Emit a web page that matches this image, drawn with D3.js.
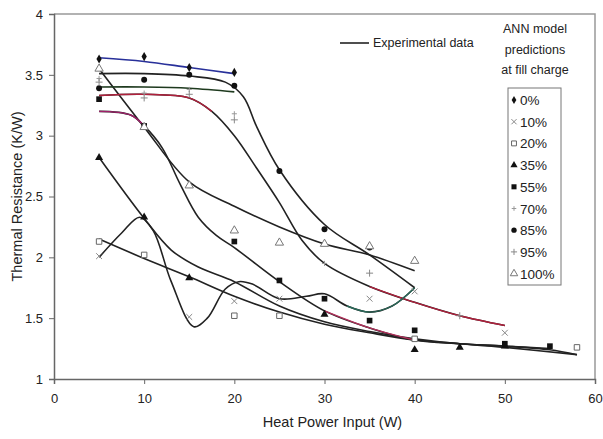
<!DOCTYPE html>
<html>
<head>
<meta charset="utf-8">
<script src="https://cdn.jsdelivr.net/npm/d3@7"></script>
<style>
  body { margin: 0; background: #fff; }
  text { font-family: "Liberation Sans", Arial, sans-serif; fill: #222; }
</style>
</head>
<body>
<div id="chart"></div>
<script>
// tick values
var xTicks = [0, 10, 20, 30, 40, 50, 60];
var yTicks = [1, 1.5, 2, 2.5, 3, 3.5, 4];

// legend labels for the ANN predictions
var fillCharges = ["0%", "10%", "20%", "35%", "55%", "70%", "85%", "95%", "100%"];

// ANN model predictions, [heat power W, thermal resistance K/W]
var ann0 = [[5, 3.63], [10, 3.65], [15, 3.56], [20, 3.52]];
var ann10 = [[5, 2.01], [15, 1.51], [20, 1.64], [25, 1.66], [35, 1.66], [40, 1.72], [50, 1.38]];
var ann20 = [[5, 2.13], [10, 2.02], [20, 1.52], [25, 1.52], [40, 1.33], [58, 1.26]];
var ann35 = [[5, 2.82], [10, 2.33], [15, 1.83], [30, 1.53], [40, 1.24], [45, 1.26], [50, 1.27]];
var ann55 = [[5, 3.30], [10, 3.08], [20, 2.13], [25, 1.81], [30, 1.66], [35, 1.48], [40, 1.40], [50, 1.29], [55, 1.27]];
var ann70 = [[5, 3.47], [10, 3.35], [15, 3.38], [20, 3.18], [30, 1.95]];
var ann85 = [[5, 3.39], [10, 3.46], [15, 3.50], [20, 3.41], [25, 2.71], [30, 2.23], [35, 2.08]];
var ann95 = [[5, 3.44], [10, 3.31], [15, 3.34], [20, 3.13], [35, 1.87], [45, 1.52]];
var ann100 = [[5, 3.55], [10, 3.07], [15, 2.59], [20, 2.22], [25, 2.12], [30, 2.11], [35, 2.09], [40, 1.97]];

// experimental curves
var exp0 = [[5, 3.64], [10, 3.61], [15, 3.56], [20, 3.51]];
var exp85 = [[5, 3.51], [10, 3.51], [15, 3.49], [19, 3.44], [21, 3.32], [22.5, 3.07], [25, 2.72], [30, 2.27], [35, 2.02], [40, 1.75]];
var exp70 = [[5, 3.40], [10, 3.40], [15, 3.39], [20, 3.36]];
var exp95 = [[5, 3.33], [10, 3.34], [15, 3.31], [17.5, 3.2], [20, 3.0], [22.5, 2.73], [25, 2.45], [27.5, 2.14], [30, 1.95], [35, 1.76], [40, 1.63], [45, 1.52], [50, 1.44]];
var exp55 = [[5, 3.2], [8.5, 3.17], [10, 3.08], [12, 2.9], [14, 2.6], [16, 2.33], [18, 2.18], [20, 2.08], [25, 1.8], [30, 1.56], [35, 1.42], [40, 1.32], [45, 1.29], [50, 1.27], [55, 1.25]];
var exp100 = [[5, 3.55], [10, 3.07], [15, 2.62], [20, 2.42], [25, 2.25], [30, 2.11], [35, 2.02], [40, 1.89]];
var exp35 = [[5, 2.82], [10, 2.32], [13, 2.06], [16, 1.92], [20, 1.8], [25, 1.6], [30, 1.47], [35, 1.39], [40, 1.33], [45, 1.29], [50, 1.27], [55, 1.24], [58, 1.2]];
var exp20 = [[5, 2.15], [10, 1.99], [15, 1.84], [20, 1.68], [25, 1.55], [30, 1.45], [35, 1.38], [40, 1.32], [45, 1.29], [50, 1.26], [58, 1.2]];
var exp10 = [[5, 2.0], [7.5, 2.2], [9.5, 2.33], [11, 2.22], [13, 1.8], [15.5, 1.43], [17, 1.5], [19, 1.74], [20.5, 1.8], [22, 1.78], [25, 1.66], [28, 1.68], [30, 1.7], [32.5, 1.6], [35, 1.55], [37.5, 1.6], [40, 1.75]];

var width = 603, height = 439;
var margin = { top: 14, right: 8, bottom: 60, left: 54 };

var svg = d3.select("#chart").append("svg")
    .attr("width", width)
    .attr("height", height);

var x = d3.scaleLinear().domain([0, 60]).range([margin.left, width - margin.right]);
var y = d3.scaleLinear().domain([1, 4]).range([height - margin.bottom, margin.top]);

// frame top + right
svg.append("path")
    .attr("d", "M" + x(0) + "," + y(4) + "H" + x(60) + "V" + y(1))
    .attr("fill", "none")
    .attr("stroke", "#999")
    .attr("stroke-width", 1.5);

var xAxis = svg.append("g")
    .attr("transform", "translate(0," + y(1) + ")")
    .call(d3.axisBottom(x).tickValues(xTicks).tickSize(5).tickPadding(10).tickFormat(d3.format("d")));
var yAxis = svg.append("g")
    .attr("transform", "translate(" + x(0) + ",0)")
    .call(d3.axisLeft(y).tickValues(yTicks).tickSize(5).tickPadding(6).tickFormat(function (d) { return d; }));

[xAxis, yAxis].forEach(function (ax) {
    ax.select(".domain").attr("stroke", "#666").attr("stroke-width", 1.5);
    ax.selectAll(".tick line").attr("stroke", "#666");
    ax.selectAll(".tick text").attr("font-size", 13).attr("fill", "#333")
        .style("font-family", "'Liberation Sans', Arial, sans-serif");
});

svg.append("text")
    .attr("x", (x(0) + x(60)) / 2 + 8)
    .attr("y", 427)
    .attr("text-anchor", "middle")
    .attr("font-size", 14.5)
    .text("Heat Power Input (W)");

svg.append("text")
    .attr("transform", "translate(22," + ((y(1) + y(4)) / 2) + ") rotate(-90)")
    .attr("text-anchor", "middle")
    .attr("font-size", 14.5)
    .text("Thermal Resistance (K/W)");

// experimental lines
var line = d3.line()
    .x(function (d) { return x(d[0]); })
    .y(function (d) { return y(d[1]); })
    .curve(d3.curveCatmullRom.alpha(0.5));

var curves = [
    { data: exp20, color: "#222" },
    { data: exp35, color: "#222" },
    { data: exp55, color: "#222" },
    { data: exp100, color: "#222" },
    { data: exp10, color: "#222" },
    { data: exp95, color: "#222" },
    { data: exp85, color: "#222" },
    { data: exp70, color: "#1e3a1e" },
    { data: exp0, color: "#28309a" }
];

svg.selectAll(".exp")
    .data(curves)
    .enter()
    .append("path")
    .attr("class", "exp")
    .attr("d", function (d) { return line(d.data); })
    .attr("fill", "none")
    .attr("stroke", function (d) { return d.color; })
    .attr("stroke-width", 1.6);

// coloured stretches, as the original shows them
var tints = [
    { data: exp55.slice(0, 3), color: "#a0206a" },
    { data: exp95.slice(0, 4), color: "#b0203c" },
    { data: exp95.slice(9), color: "#b0203c" },
    { data: exp55.slice(9, 12), color: "#b0305a" },
    { data: exp10.slice(13), color: "#2a6a5a" }
];
svg.selectAll(".tint")
    .data(tints)
    .enter()
    .append("path")
    .attr("class", "tint")
    .attr("d", function (d) { return line(d.data); })
    .attr("fill", "none")
    .attr("stroke", function (d) { return d.color; })
    .attr("stroke-width", 1.4);

// ANN markers
var symX = d3.symbolTimes || d3.symbolCross;
var symPlus = d3.symbolPlus || d3.symbolCross;
var markers = [
    { data: ann0, type: d3.symbolDiamond, size: 24, fill: "#111", stroke: "none" },
    { data: ann10, type: symX, size: 24, fill: "none", stroke: "#888" },
    { data: ann20, type: d3.symbolSquare, size: 30, fill: "#fff", stroke: "#666" },
    { data: ann35, type: d3.symbolTriangle, size: 28, fill: "#111", stroke: "none" },
    { data: ann55, type: d3.symbolSquare, size: 32, fill: "#111", stroke: "none" },
    { data: ann70, type: symPlus, size: 10, fill: "none", stroke: "#999" },
    { data: ann85, type: d3.symbolCircle, size: 28, fill: "#111", stroke: "none" },
    { data: ann95, type: symPlus, size: 18, fill: "none", stroke: "#888" },
    { data: ann100, type: d3.symbolTriangle, size: 30, fill: "#fff", stroke: "#777" }
];

markers.forEach(function (m) {
    var sym = d3.symbol().type(m.type).size(m.size);
    svg.append("g").selectAll("path")
        .data(m.data)
        .enter()
        .append("path")
        .attr("transform", function (d) { return "translate(" + x(d[0]) + "," + y(d[1]) + ")"; })
        .attr("d", sym)
        .attr("fill", m.fill)
        .attr("stroke", m.stroke)
        .attr("stroke-width", 1);
});

// "Experimental data" key
svg.append("line")
    .attr("x1", 340).attr("x2", 369)
    .attr("y1", 43).attr("y2", 43)
    .attr("stroke", "#222").attr("stroke-width", 1.6);
svg.append("text")
    .attr("x", 373).attr("y", 47)
    .attr("font-size", 12.5)
    .text("Experimental data");

// ANN legend title
["ANN model", "predictions", "at fill charge"].forEach(function (t, i) {
    svg.append("text")
        .attr("x", 535).attr("y", 33 + i * 20.5)
        .attr("text-anchor", "middle")
        .attr("font-size", 12.5)
        .text(t);
});

var legend = svg.append("g");
legend.append("rect")
    .attr("x", 508).attr("y", 88)
    .attr("width", 53).attr("height", 197)
    .attr("fill", "#fff")
    .attr("stroke", "#777");

fillCharges.forEach(function (lab, i) {
    var m = markers[i];
    var cy = 100 + i * 21.7;
    legend.append("path")
        .attr("transform", "translate(514," + cy + ")")
        .attr("d", d3.symbol().type(m.type).size(m.size * 0.8))
        .attr("fill", m.fill)
        .attr("stroke", m.stroke);
    legend.append("text")
        .attr("x", 520).attr("y", cy + 5)
        .attr("font-size", 13.5)
        .text(lab);
});
</script>
</body>
</html>
